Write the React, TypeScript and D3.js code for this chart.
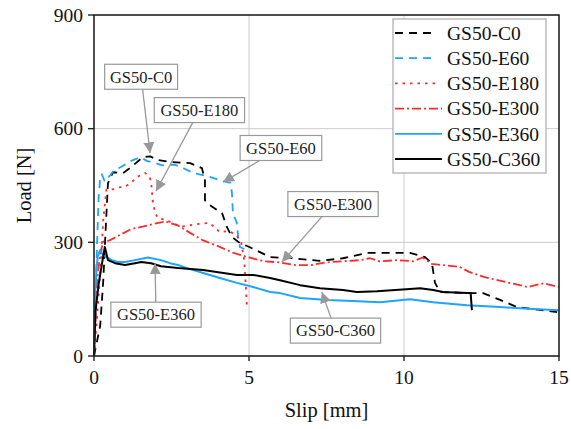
import * as d3 from 'd3';

// slip [mm] / load [N] pairs
const c0 = [[0,0],[0.2,80],[0.3,200],[0.35,290],[0.45,456],[0.61,485],[0.94,483],[1.19,498],[1.58,525],[1.81,527],[2.06,517],[2.48,512],[3.1,509],[3.48,496],[3.58,464],[3.58,411],[3.74,398],[4.13,377],[4.29,340],[4.45,314],[4.71,298],[5.03,287],[5.68,261],[6.42,258],[7.29,251],[8.03,258],[8.81,272],[9.23,272],[10.19,272],[10.68,261],[10.9,245],[11.0,193],[11.16,169],[12.13,166],[12.55,166],[13.1,148],[13.65,129],[14.94,116]];
const e60 = [[0,0],[0.05,150],[0.1,300],[0.15,420],[0.2,470],[0.25,480],[0.35,460],[0.45,470],[0.65,490],[0.9,500],[1.2,515],[1.5,525],[1.7,515],[1.95,510],[2.2,503],[2.6,505],[2.9,495],[3.2,483],[3.6,476],[4.1,463],[4.4,457],[4.45,430],[4.48,377],[4.61,351],[4.65,314],[4.71,287],[4.85,283]];
const e180 = [[0,0],[0.1,100],[0.2,220],[0.3,360],[0.4,440],[0.6,440],[0.8,445],[1.0,447],[1.2,457],[1.4,473],[1.65,483],[1.8,473],[1.85,450],[1.9,407],[1.97,378],[2.06,364],[2.3,360],[2.6,348],[2.9,342],[3.3,348],[3.7,351],[3.9,340],[4.05,327],[4.35,330],[4.6,318],[4.75,300],[4.85,250],[4.9,180],[4.93,135]];
const e300 = [[0,0],[0.05,100],[0.1,200],[0.2,270],[0.3,302],[0.5,305],[0.8,318],[1.2,335],[1.6,342],[2.0,350],[2.3,355],[2.7,345],[3.1,325],[3.5,306],[4.0,290],[4.5,272],[5.0,260],[5.5,250],[6.0,247],[6.5,240],[7.0,240],[7.5,247],[8.0,250],[8.6,253],[8.9,258],[9.2,250],[9.8,253],[10.3,250],[10.6,260],[10.9,243],[11.8,235],[12.1,222],[12.6,208],[13.3,195],[14.0,182],[14.5,192],[15.0,182]];
const e360 = [[0,0],[0.03,150],[0.08,230],[0.12,262],[0.2,280],[0.3,265],[0.39,262],[0.6,252],[0.77,248],[1.0,248],[1.32,253],[1.74,260],[2.16,253],[2.45,245],[2.71,240],[3.0,232],[3.52,219],[4.06,206],[4.61,193],[5.13,182],[5.68,169],[6.0,166],[6.65,153],[7.52,148],[8.35,145],[9.23,142],[10.19,150],[10.94,142],[12.03,134],[13.1,129],[14.16,124],[15.0,121]];
const c360 = [[0,0],[0.05,120],[0.15,190],[0.25,240],[0.35,288],[0.45,253],[0.68,245],[1.0,240],[1.32,245],[1.52,248],[1.84,245],[2.16,237],[2.71,232],[3.52,227],[4.61,214],[5.13,214],[5.68,206],[6.0,200],[6.65,187],[7.29,179],[8.03,174],[8.48,169],[9.13,171],[10.19,177],[10.52,179],[10.94,174],[11.26,169],[12.03,166],[12.15,166],[12.19,121]];

const seriesNames = ['GS50-C0', 'GS50-E60', 'GS50-E180', 'GS50-E300', 'GS50-E360', 'GS50-C360'];
const seriesData = [c0, e60, e180, e300, e360, c360];
const seriesColors = ['#000000', '#1ea4ff', '#ff2a2a', '#ff2a2a', '#1ea4ff', '#000000'];
const seriesDash = ['8,6', '8,6', '2.5,5', '9,3,2,3', null, null];

const xTicks = [0, 5, 10, 15];
const yTicks = [0, 300, 600, 900];

// callout label, box centre and arrow tip, in data units
const callouts = [
  { text: 'GS50-C0', box: [1.52, 737], tip: [1.81, 535] },
  { text: 'GS50-E180', box: [3.4, 649], tip: [2.0, 435] },
  { text: 'GS50-E60', box: [6.03, 549], tip: [4.16, 459] },
  { text: 'GS50-E300', box: [7.71, 401], tip: [6.06, 248] },
  { text: 'GS50-E360', box: [2.0, 109], tip: [1.97, 245] },
  { text: 'GS50-C360', box: [7.79, 67], tip: [7.35, 169] },
];

const W = 571;
const H = 429;
const FONT = 'Liberation Serif';

export default function App() {
  const x = d3.scaleLinear().domain([0, 15]).range([94, 559]);
  const y = d3.scaleLinear().domain([0, 900]).range([356, 15]);
  const line = d3.line<number[]>().x(d => x(d[0])).y(d => y(d[1]));

  // approximate text width for box sizing
  const textW = (s: string) => s.length * 8.7;

  return (
    <svg width={W} height={H} style={{ position: 'absolute', left: 0, top: 0, background: '#fff', fontFamily: FONT }}>
      <defs>
        <marker id="arr" viewBox="0 0 10 10" refX="10" refY="5" markerWidth="11" markerHeight="11"
          markerUnits="userSpaceOnUse" orient="auto">
          <path d="M0,0 L10,5 L0,10 z" fill="#999" />
        </marker>
      </defs>

      {/* grid */}
      {xTicks.slice(1, -1).map(t => (
        <line key={'gx' + t} x1={x(t)} x2={x(t)} y1={y(0)} y2={y(900)} stroke="#cccccc" strokeWidth={1} />
      ))}
      {yTicks.slice(1, -1).map(t => (
        <line key={'gy' + t} x1={x(0)} x2={x(15)} y1={y(t)} y2={y(t)} stroke="#cccccc" strokeWidth={1} />
      ))}

      {/* curves */}
      {seriesData.map((d, i) => (
        <path key={seriesNames[i]} d={line(d) || ''} fill="none" stroke={seriesColors[i]}
          strokeWidth={i >= 4 ? 2 : 1.8} strokeDasharray={seriesDash[i] || undefined}
          strokeLinejoin="round" />
      ))}

      {/* frame */}
      <rect x={x(0)} y={y(900)} width={x(15) - x(0)} height={y(0) - y(900)} fill="none" stroke="#222" strokeWidth={1.6} />

      {/* ticks */}
      {yTicks.map(t => (
        <g key={'ty' + t}>
          <line x1={x(0) - 6} x2={x(0)} y1={y(t)} y2={y(t)} stroke="#222" strokeWidth={1.4} />
          <text x={x(0) - 11} y={y(t)} dy="0.35em" textAnchor="end" fontSize={19.5} fill="#111">{t}</text>
        </g>
      ))}
      {xTicks.map(t => (
        <g key={'tx' + t}>
          <line x1={x(t)} x2={x(t)} y1={y(0)} y2={y(0) + 5} stroke="#222" strokeWidth={1.4} />
          <text x={x(t)} y={384} textAnchor="middle" fontSize={19.5} fill="#111">{t}</text>
        </g>
      ))}

      <text x={(x(0) + x(15)) / 2} y={417} textAnchor="middle" fontSize={20.5} fill="#111">Slip [mm]</text>
      <text transform={`translate(31,${(y(0) + y(900)) / 2}) rotate(-90)`} textAnchor="middle" fontSize={20.5} fill="#111">Load [N]</text>

      {/* callouts */}
      {callouts.map(c => {
        const cx = x(c.box[0]);
        const cy = y(c.box[1]);
        const tx = x(c.tip[0]);
        const ty = y(c.tip[1]);
        const hw = textW(c.text) / 2 + 6;
        const hh = 12.5;
        const dx = tx - cx;
        const dy = ty - cy;
        const s = Math.min(dx === 0 ? Infinity : hw / Math.abs(dx), dy === 0 ? Infinity : hh / Math.abs(dy));
        return (
          <g key={c.text}>
            <line x1={cx + dx * s} y1={cy + dy * s} x2={tx} y2={ty} stroke="#999" strokeWidth={1.3} markerEnd="url(#arr)" />
            <rect x={cx - hw} y={cy - hh} width={hw * 2} height={hh * 2} fill="#fff" stroke="#999" strokeWidth={1.2} />
            <text x={cx} y={cy} dy="0.35em" textAnchor="middle" fontSize={16.5} fill="#222">{c.text}</text>
          </g>
        );
      })}

      {/* legend */}
      <rect x={393} y={19} width={153} height={154} fill="#fff" stroke="#aaa" strokeWidth={1.2} />
      {seriesNames.map((n, i) => {
        const ly = 33 + i * 25.2;
        return (
          <g key={'lg' + n}>
            <line x1={395} x2={i >= 3 ? 442 : 436} y1={ly} y2={ly} stroke={seriesColors[i]} strokeWidth={1.8}
              strokeDasharray={seriesDash[i] || undefined} />
            <text x={447} y={ly} dy="0.35em" fontSize={19.5} fill="#111">{n}</text>
          </g>
        );
      })}
    </svg>
  );
}
